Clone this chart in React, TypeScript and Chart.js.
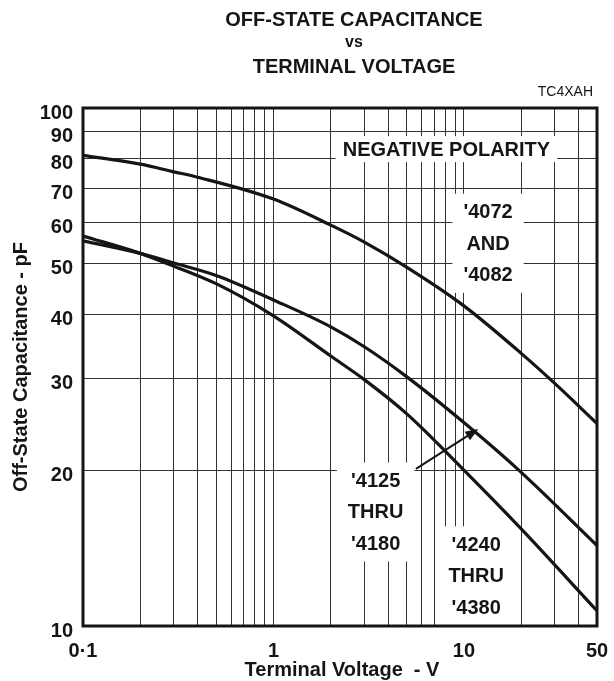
import React, { useEffect, useRef } from 'react';
import { Chart, registerables } from 'chart.js';

Chart.register(...registerables);

// ---------- data ----------
const voltsA = [0.1, 0.2, 0.3, 0.4, 1, 2, 3, 5, 10, 20, 30, 50];
const capA = [81, 77.9, 75.3, 73.5, 66.7, 59.4, 55.1, 49.3, 41.5, 33.6, 29.4, 24.6];

const voltsB = [0.1, 0.2, 0.3, 0.5, 1, 2, 3, 5, 10, 20, 50];
const capB = [55.4, 52.4, 50.2, 47.5, 42.6, 37.8, 34.6, 30.3, 24.7, 19.8, 14.3];

const voltsC = [0.1, 0.2, 0.3, 0.5, 1, 2, 3, 5, 10, 20, 50];
const capC = [56.6, 52.4, 49.5, 45.8, 39.7, 33.2, 29.9, 25.7, 20.0, 15.4, 10.7];

const xGridValues = [
  0.1, 0.2, 0.3, 0.4, 0.5, 0.6, 0.7, 0.8, 0.9,
  1, 2, 3, 4, 5, 6, 7, 8, 9,
  10, 20, 30, 40, 50,
];
const xLabelValues = [0.1, 1, 10, 50];
const xLabelTexts = ['0·1', '1', '10', '50'];
const yGridValues = [10, 20, 30, 40, 50, 60, 70, 80, 90, 100];

const titleLines = ['OFF-STATE CAPACITANCE', 'vs', 'TERMINAL VOLTAGE'];
const figureCode = 'TC4XAH';
const xTitle = 'Terminal Voltage  - V';
const yTitle = 'Off-State Capacitance - pF';

const labelTexts = [
  ['NEGATIVE POLARITY'],
  ["'4072", 'AND', "'4082"],
  ["'4125", 'THRU', "'4180"],
  ["'4240", 'THRU', "'4380"],
];
// anchor of each label block in data units (volts, pF)
const labelAnchorV = [8.1, 13.4, 3.44, 11.6];
const labelAnchorC = [83.3, 54.8, 16.6, 12.5];
// arrow (from label '4125 to its curve), data units
const arrowV = [5.6, 11.9];
const arrowC = [20.1, 24.0];

// ---------- styles ----------
const FONT = '"Liberation Sans", Arial, Helvetica, sans-serif';
const INK = '#151515';
const GRID = '#333333';
const LINE_GAP = 31.5;

const annotPlugin = {
  id: 'annots',
  beforeDatasetsDraw(chart: any) {
    const { ctx, scales } = chart;
    const x = scales.x, y = scales.y;
    ctx.save();
    ctx.font = `bold 20px ${FONT}`;
    ctx.textAlign = 'center';
    ctx.textBaseline = 'middle';
    labelTexts.forEach((lines, k) => {
      const cx = x.getPixelForValue(labelAnchorV[k]);
      const cy = y.getPixelForValue(labelAnchorC[k]);
      const n = lines.length;
      const w = Math.max(...lines.map((l) => ctx.measureText(l).width));
      const h = (n - 1) * LINE_GAP;
      const padX = n === 1 ? 7 : 11;
      const padY = n === 1 ? 13 : 18;
      ctx.fillStyle = '#fff';
      ctx.fillRect(cx - w / 2 - padX, cy - h / 2 - padY, w + 2 * padX, h + 2 * padY);
      ctx.fillStyle = INK;
      lines.forEach((l, i) => ctx.fillText(l, cx, cy - h / 2 + i * LINE_GAP + 1));
    });
    // arrow
    const x0 = x.getPixelForValue(arrowV[0]);
    const y0 = y.getPixelForValue(arrowC[0]);
    const x1 = x.getPixelForValue(arrowV[1]);
    const y1 = y.getPixelForValue(arrowC[1]);
    const ang = Math.atan2(y1 - y0, x1 - x0);
    const hl = 13, hw = 5;
    ctx.strokeStyle = INK;
    ctx.lineWidth = 2;
    ctx.beginPath();
    ctx.moveTo(x0, y0);
    ctx.lineTo(x1 - Math.cos(ang) * hl * 0.8, y1 - Math.sin(ang) * hl * 0.8);
    ctx.stroke();
    ctx.fillStyle = INK;
    ctx.beginPath();
    ctx.moveTo(x1, y1);
    ctx.lineTo(x1 - Math.cos(ang) * hl - Math.sin(ang) * hw, y1 - Math.sin(ang) * hl + Math.cos(ang) * hw);
    ctx.lineTo(x1 - Math.cos(ang) * hl + Math.sin(ang) * hw, y1 - Math.sin(ang) * hl - Math.cos(ang) * hw);
    ctx.closePath();
    ctx.fill();
    ctx.restore();
  },
  afterDraw(chart: any) {
    const { ctx, chartArea } = chart;
    const { left, right, top, bottom } = chartArea;
    ctx.save();
    ctx.strokeStyle = INK;
    ctx.lineWidth = 3;
    ctx.strokeRect(left, top, right - left, bottom - top);

    const cx = (left + right) / 2;
    ctx.fillStyle = INK;
    ctx.textAlign = 'center';
    ctx.textBaseline = 'middle';
    ctx.font = `bold 20px ${FONT}`;
    ctx.fillText(titleLines[0], cx + 14, 20);
    ctx.font = `bold 16px ${FONT}`;
    ctx.fillText(titleLines[1], cx + 14, 43);
    ctx.font = `bold 20px ${FONT}`;
    ctx.fillText(titleLines[2], cx + 14, 67);

    ctx.font = `14px ${FONT}`;
    ctx.textAlign = 'right';
    ctx.fillText(figureCode, right - 4, 92);

    ctx.font = `bold 20px ${FONT}`;
    ctx.textAlign = 'center';
    ctx.fillText(xTitle, cx + 2, 670);

    ctx.translate(21, (top + bottom) / 2);
    ctx.rotate(-Math.PI / 2);
    ctx.fillText(yTitle, 0, 0);
    ctx.restore();
  },
};

function makeSeries(vs: number[], cs: number[]) {
  return {
    data: vs.map((v, i) => ({ x: v, y: cs[i] })),
    borderColor: INK,
    borderWidth: 3.2,
    pointRadius: 0,
    fill: false,
    cubicInterpolationMode: 'monotone' as const,
  };
}

export default function App() {
  const ref = useRef<HTMLCanvasElement>(null);
  useEffect(() => {
    if (!ref.current) return;
    const chart = new Chart(ref.current, {
      type: 'line',
      data: {
        datasets: [makeSeries(voltsA, capA), makeSeries(voltsB, capB), makeSeries(voltsC, capC)],
      },
      options: {
        responsive: false,
        animation: false,
        layout: { padding: { top: 108, right: 17, left: 0, bottom: 0 } },
        plugins: {
          legend: { display: false },
          tooltip: { enabled: false },
          title: { display: false },
        },
        scales: {
          x: {
            type: 'logarithmic',
            min: 0.1,
            max: 50,
            afterBuildTicks: (s: any) => {
              s.ticks = xGridValues.map((v) => ({ value: v }));
            },
            afterFit: (s: any) => {
              s.height = 55;
              s.paddingLeft = 0;
              s.paddingRight = 0;
            },
            grid: { color: GRID, lineWidth: 1, drawTicks: false },
            border: { display: false },
            ticks: {
              autoSkip: false,
              maxRotation: 0,
              minRotation: 0,
              padding: 13,
              color: INK,
              font: { family: FONT, size: 20, weight: 'bold' },
              callback: (v: any) => {
                const i = xLabelValues.indexOf(Number(v));
                return i >= 0 ? xLabelTexts[i] : '';
              },
            },
          },
          y: {
            type: 'logarithmic',
            min: 10,
            max: 100,
            afterBuildTicks: (s: any) => {
              s.ticks = yGridValues.map((v) => ({ value: v }));
            },
            afterFit: (s: any) => {
              s.width = 83;
              s.paddingTop = 0;
              s.paddingBottom = 0;
            },
            grid: { color: GRID, lineWidth: 1, drawTicks: false },
            border: { display: false },
            ticks: {
              autoSkip: false,
              padding: 10,
              labelOffset: 5,
              color: INK,
              font: { family: FONT, size: 20, weight: 'bold' },
              callback: (v: any) => String(v),
            },
          },
        },
      } as any,
      plugins: [annotPlugin],
    });
    return () => chart.destroy();
  }, []);
  return (
    <div style={{ position: 'absolute', left: 0, top: 0, width: 614, height: 681, background: '#fff' }}>
      <canvas ref={ref} width={614} height={681} style={{ display: 'block' }} />
    </div>
  );
}
